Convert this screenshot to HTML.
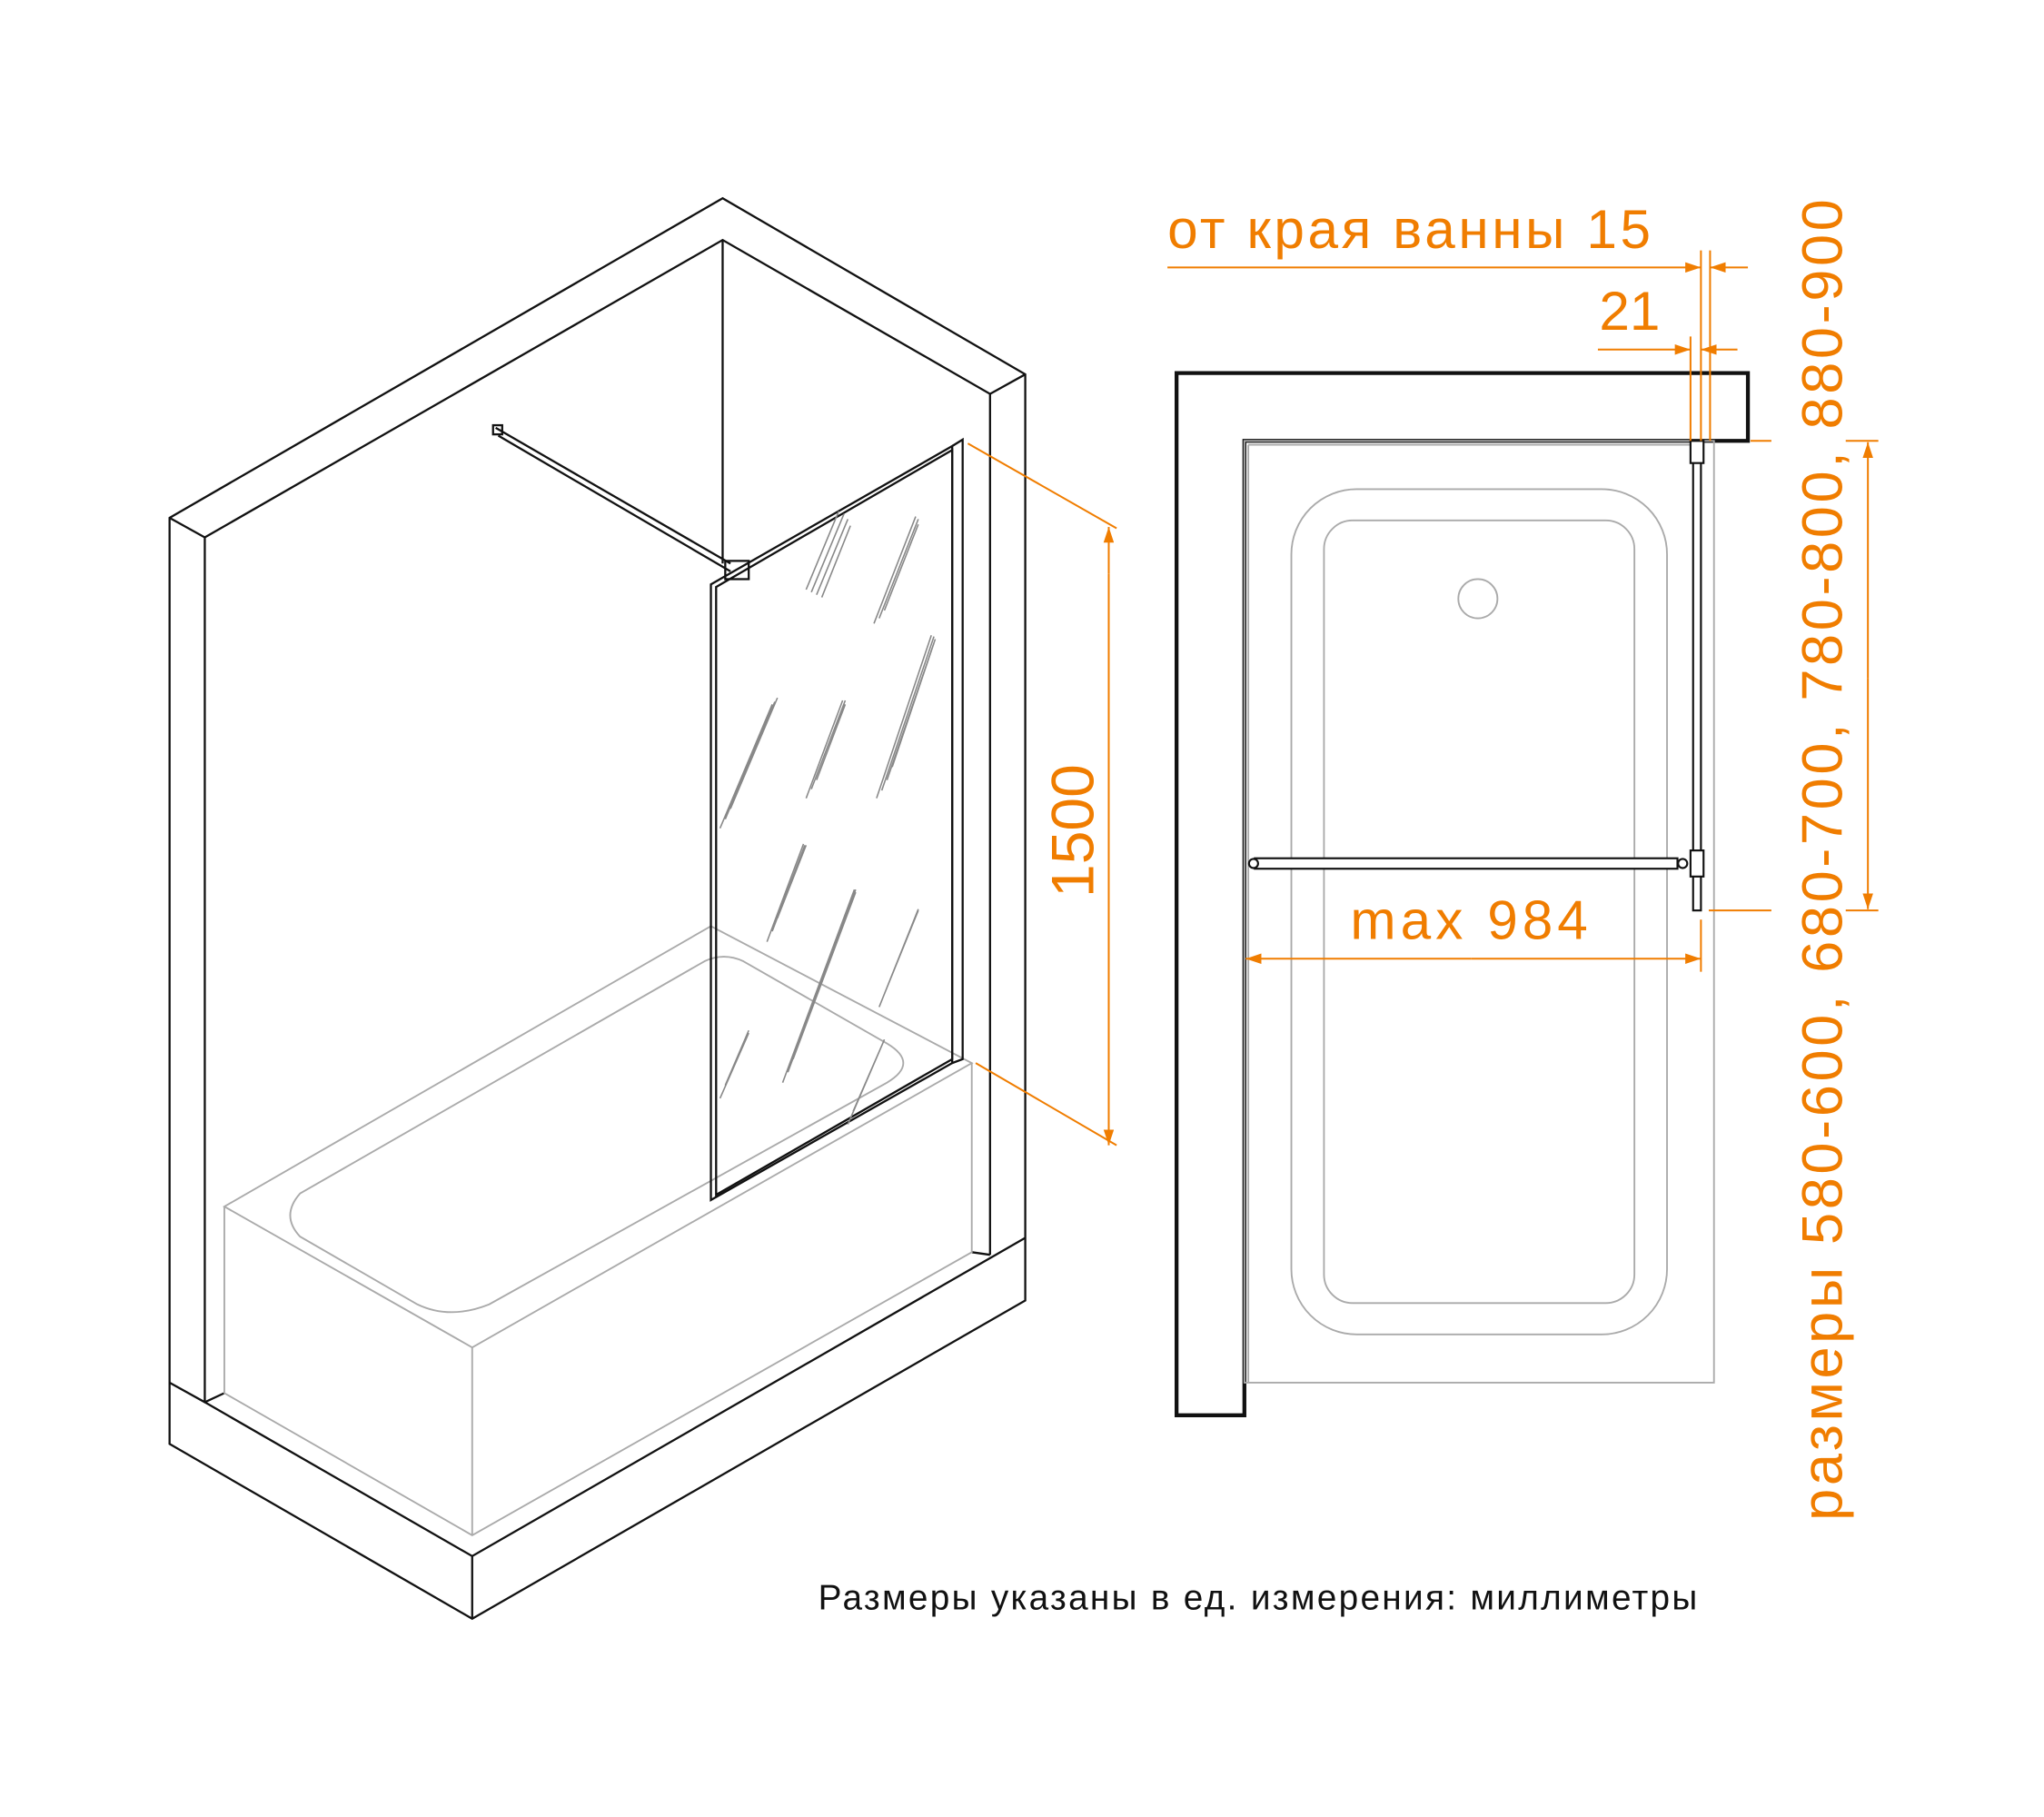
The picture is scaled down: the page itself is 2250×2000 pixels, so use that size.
<!DOCTYPE html>
<html><head><meta charset="utf-8"><style>html,body{margin:0;padding:0;background:#fff}svg{display:block}</style></head>
<body>
<svg width="2250" height="2000" viewBox="0 0 1567 1393" preserveAspectRatio="none" xmlns="http://www.w3.org/2000/svg">
<defs>
<marker id="a" markerWidth="12" markerHeight="8" refX="12" refY="4" orient="auto" markerUnits="userSpaceOnUse"><path d="M0,0 L12,4 L0,8 z" fill="#f07d00"/></marker>
</defs>
<rect width="1567" height="1393" fill="#fff"/>
<g fill="none" stroke="#111" stroke-width="1.6">
<polygon points="130,397 554,152 786,287 786,997 362,1241 130,1107"/>
<polyline points="130,397 157,412 157,1075"/>
<polyline points="157,412 554,184 759,302 786,287"/>
<line x1="759" y1="302" x2="759" y2="962"/>
<line x1="554" y1="184" x2="554" y2="432"/>
<polyline points="130,1060 157,1075 172,1068"/>
<polyline points="157,1075 362,1193 786,949"/>
<polyline points="759,962 745,960"/>
<line x1="362" y1="1193" x2="362" y2="1241"/>
</g>
<g fill="none" stroke="#aaa" stroke-width="1.3">
<polygon points="172,925 545,710 745,815 362,1033"/>
<polyline points="172,925 172,1068 362,1177 745,960 745,815"/>
<line x1="362" y1="1033" x2="362" y2="1177"/>
<path d="M230,915 L540,737 Q555,730 570,737 L680,800 Q705,815 680,830 L375,1000 Q345,1012 320,1000 L230,948 Q215,932 230,915 z"/>
</g>
<g fill="none" stroke="#111" stroke-width="1.6">
<line x1="380" y1="328" x2="560" y2="432"/>
<line x1="382" y1="334" x2="560" y2="438"/>
<rect x="378" y="326" width="7" height="7"/>
<rect x="556" y="430" width="18" height="14"/>
<polygon points="545,448 730,342 730,815 545,920"/>
<polygon points="549,450 730,345 730,812 549,916"/>
<polyline points="730,342 738,337 738,812 730,815"/>
</g>
<g stroke="#888" stroke-width="1.1">
<path d="M618,452 l25,-60 M622,454 l25,-60 M626,456 l24,-58 M630,458 l22,-55 M670,478 l32,-82 M674,474 l30,-76 M678,468 l26,-66
M552,635 l40,-95 M556,628 l38,-90 M560,620 l36,-85 M564,610 l32,-75
M618,612 l28,-75 M622,605 l26,-68 M626,598 l22,-58
M672,612 l42,-125 M676,606 l40,-118 M680,598 l37,-108 M684,588 l32,-95
M588,722 l28,-75 M592,714 l25,-66 M596,704 l22,-56
M600,830 l55,-148 M604,822 l52,-140 M608,812 l48,-128 M612,800 l42,-112
M674,772 l30,-75 M678,762 l26,-64 M682,752 l22,-54
M552,842 l22,-50 M556,832 l18,-42
M650,862 l28,-65 M654,852 l24,-55"/>
</g>
<g stroke="#f07d00" stroke-width="1.4" fill="none">
<line x1="742" y1="340" x2="856" y2="405"/>
<line x1="748" y1="815" x2="856" y2="878"/>
<line x1="850" y1="440" x2="850" y2="404" marker-end="url(#a)"/>
<line x1="850" y1="440" x2="850" y2="878" marker-end="url(#a)"/>
</g>
<text transform="translate(838,637) rotate(-90)" text-anchor="middle" font-family="Liberation Sans, sans-serif" font-size="46" fill="#f07d00">1500</text>
<polygon points="902,286 1340,286 1340,338 954,338 954,1085 902,1085" fill="none" stroke="#111" stroke-width="3"/>
<g fill="none" stroke="#aaa" stroke-width="1.3">
<rect x="954" y="338" width="360" height="722"/>
<line x1="957" y1="341" x2="957" y2="1060"/>
<line x1="957" y1="341" x2="1300" y2="341"/>
<rect x="990" y="375" width="288" height="648" rx="50"/>
<rect x="1015" y="399" width="238" height="600" rx="22"/>
<circle cx="1133" cy="459" r="15"/>
</g>
<g fill="#fff" stroke="#111" stroke-width="1.5">
<rect x="1298" y="354" width="6" height="344"/>
<rect x="1296" y="338" width="10" height="17"/>
<rect x="1296" y="652" width="10" height="20"/>
<rect x="962" y="658" width="324" height="8"/>
<circle cx="961" cy="662" r="3.5"/>
<circle cx="1290" cy="662" r="3.5"/>
</g>
<g stroke="#f07d00" stroke-width="1.4" fill="none">
<line x1="895" y1="205" x2="1304" y2="205" marker-end="url(#a)"/>
<line x1="1340" y1="205" x2="1311" y2="205" marker-end="url(#a)"/>
<line x1="1304" y1="192" x2="1304" y2="338"/>
<line x1="1311" y1="192" x2="1311" y2="338"/>
<line x1="1225" y1="268" x2="1296" y2="268" marker-end="url(#a)"/>
<line x1="1332" y1="268" x2="1304" y2="268" marker-end="url(#a)"/>
<line x1="1296" y1="258" x2="1296" y2="338"/>
<line x1="1342" y1="338" x2="1358" y2="338"/>
<line x1="1310" y1="698" x2="1358" y2="698"/>
<line x1="1415" y1="338" x2="1440" y2="338"/>
<line x1="1415" y1="698" x2="1440" y2="698"/>
<line x1="1432" y1="520" x2="1432" y2="339" marker-end="url(#a)"/>
<line x1="1432" y1="520" x2="1432" y2="697" marker-end="url(#a)"/>
<line x1="1128" y1="735" x2="955" y2="735" marker-end="url(#a)"/>
<line x1="1128" y1="735" x2="1304" y2="735" marker-end="url(#a)"/>
<line x1="1304" y1="705" x2="1304" y2="745"/>
</g>
<g font-family="Liberation Sans, sans-serif" fill="#f07d00">
<text x="895" y="190" font-size="42" letter-spacing="2.5">от края ванны 15</text>
<text x="1226" y="253" font-size="42">21</text>
<text x="1128" y="720" font-size="42" letter-spacing="3.5" text-anchor="middle">max 984</text>
<text transform="translate(1412,658) rotate(-90)" text-anchor="middle" font-size="44" letter-spacing="2.5">размеры 580-600, 680-700, 780-800, 880-900</text>
</g>
<text x="965" y="1234" text-anchor="middle" font-family="Liberation Sans, sans-serif" font-size="27" letter-spacing="1.6" fill="#111">Размеры указаны в ед. измерения: миллиметры</text>
</svg>
</body></html>
